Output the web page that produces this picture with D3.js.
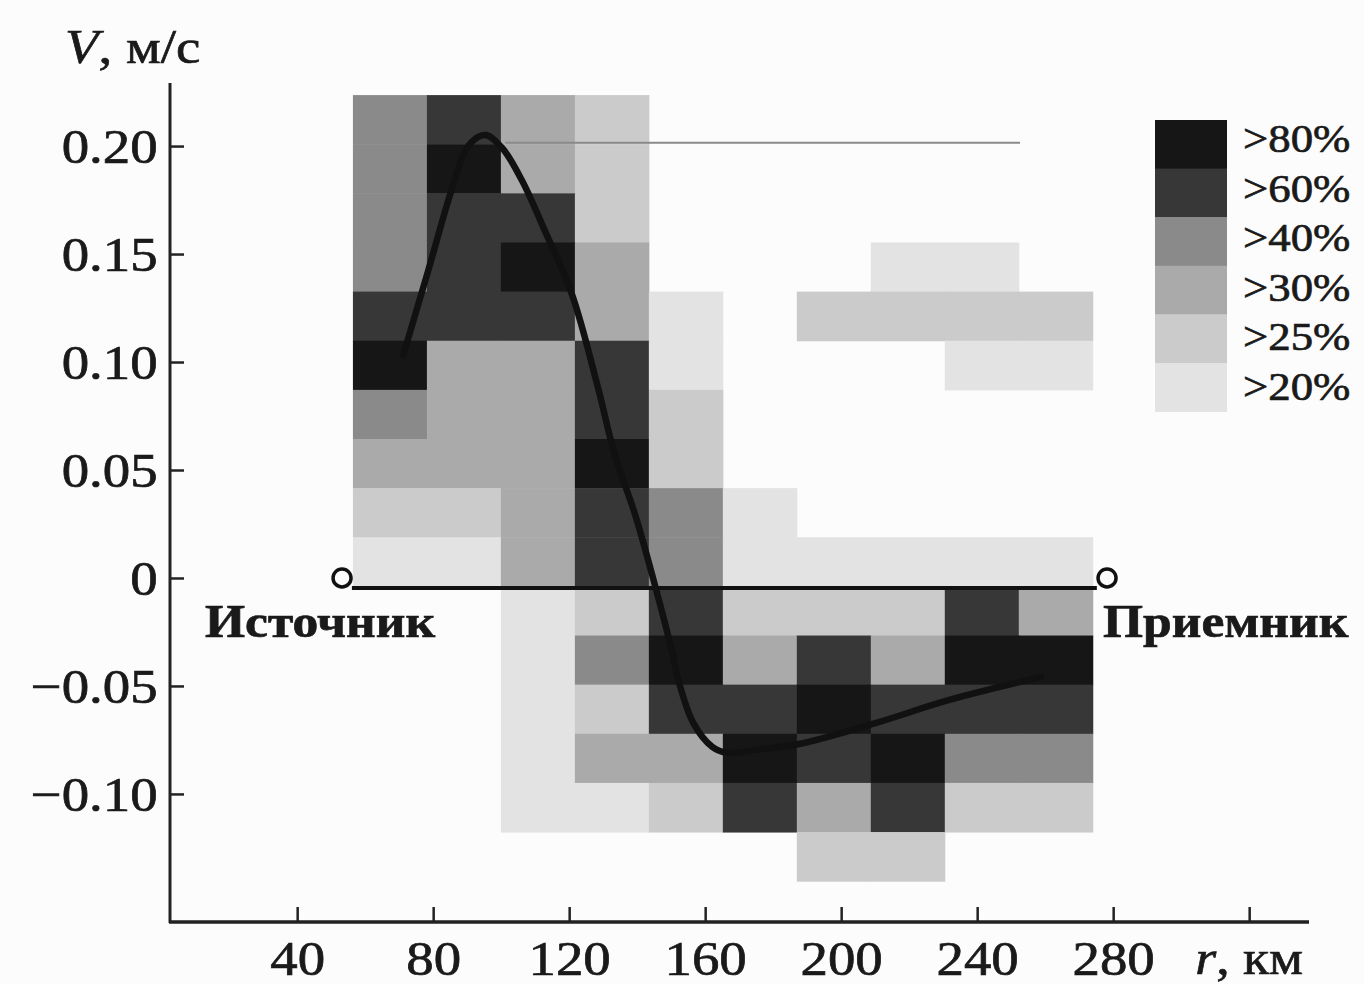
<!DOCTYPE html>
<html><head><meta charset="utf-8">
<script src="https://cdn.jsdelivr.net/npm/d3@7"></script>
<style>
html,body{margin:0;padding:0;background:#fcfcfc;}
svg{display:block;}
text{font-family:"Liberation Serif","Times New Roman",serif;fill:#1a1a1a;stroke:#1a1a1a;stroke-width:0.7px;}
</style></head>
<body>
<svg id="chart" width="1364" height="984"></svg>
<script>
// ---- data ----
const xTicks = [40, 80, 120, 160, 200, 240, 280, 320];
const xTickLabels = ["40", "80", "120", "160", "200", "240", "280", ""];
const yTicks = [-0.10, -0.05, 0, 0.05, 0.10, 0.15, 0.20];
const yTickLabels = ["\u22120.10", "\u22120.05", "0", "0.05", "0.10", "0.15", "0.20"];
const legendLabels = [">80%", ">60%", ">40%", ">30%", ">25%", ">20%"];
const levelColors = ["none", "#e3e3e3", "#cbcbcb", "#aaaaaa", "#8a8a8a", "#373737", "#161616"];

// grid: column left edges in km, row top edges in m/s
const colStart = 56.4, colWidth = 21.76;
const rowTop = 0.2236, rowHeight = 0.02275;
// probability level per cell (rows from top to bottom, columns left to right), 0 = none
const level = [
  [4,5,3,2,0,0,0,0,0,0],
  [4,6,3,2,0,0,0,0,0,0],
  [4,5,5,2,0,0,0,0,0,0],
  [4,5,6,3,0,0,0,1,1,0],
  [5,5,5,3,1,0,2,2,2,2],
  [6,3,3,5,1,0,0,0,1,1],
  [4,3,3,5,2,0,0,0,0,0],
  [3,3,3,6,2,0,0,0,0,0],
  [2,2,3,5,4,1,0,0,0,0],
  [1,1,3,5,4,1,1,1,1,1],
  [0,0,1,2,5,2,2,2,5,3],
  [0,0,1,4,6,3,5,3,6,6],
  [0,0,1,2,5,5,6,5,5,5],
  [0,0,1,3,3,6,5,6,4,4],
  [0,0,1,1,2,5,3,5,2,2],
  [0,0,0,0,0,0,2,2,0,0]
];
// mean velocity curve
const curveR = [71.2, 78.5, 85.6, 90.3, 95.3, 100.3, 106.2, 112.9, 120.9, 128.5, 133.2, 139.7, 145.2, 150.3, 152.1, 156.5, 162.1, 166.5, 175.0, 189.1, 210.3, 231.8, 258.8];
const curveV = [0.1032, 0.1421, 0.1806, 0.2000, 0.2051, 0.1991, 0.1838, 0.1606, 0.1310, 0.0880, 0.0583, 0.0278, -0.0032, -0.0343, -0.0472, -0.0671, -0.0782, -0.0810, -0.0796, -0.0764, -0.0671, -0.0565, -0.0458];
// reference line near 0.20
const refLineR = [101.2, 252.6], refLineV = 0.2015;
// source / receiver
const sourceR = 53.2, receiverR = 278.2;
const pathR = [56.1, 275.2], pathV = -0.0046;

// ---- scales ----
const svg = d3.select("#chart");
const x = d3.scaleLinear().domain([2.6, 337.6]).range([170, 1309]);
const y = d3.scaleLinear().domain([-0.1593, 0.2292]).range([922, 83]);
const SX = 1.12;

function label(g, px, py, s, anchor, size, weight) {
  return g.append("text")
    .attr("transform", `translate(${px},${py}) scale(${SX},1)`)
    .attr("text-anchor", anchor || "start")
    .style("font-size", (size || 50) + "px")
    .style("font-weight", weight || "normal")
    .text(s);
}

// ---- heatmap ----
const cells = [];
level.forEach((row, i) => row.forEach((lv, j) => { if (lv > 0) cells.push({i, j, lv}); }));
svg.append("g").selectAll("rect").data(cells).join("rect")
  .attr("x", d => x(colStart + d.j * colWidth))
  .attr("y", d => y(rowTop - d.i * rowHeight))
  .attr("width", d => x(colStart + (d.j + 1) * colWidth) - x(colStart + d.j * colWidth) + 0.5)
  .attr("height", d => y(rowTop - (d.i + 1) * rowHeight) - y(rowTop - d.i * rowHeight) + 0.5)
  .attr("fill", d => levelColors[d.lv]);

// reference thin line
svg.append("line")
  .attr("x1", x(refLineR[0])).attr("x2", x(refLineR[1]))
  .attr("y1", y(refLineV)).attr("y2", y(refLineV))
  .attr("stroke", "#8a8a8a").attr("stroke-width", 2);

// source-receiver path
svg.append("line")
  .attr("x1", x(pathR[0])).attr("x2", x(pathR[1]))
  .attr("y1", y(pathV)).attr("y2", y(pathV))
  .attr("stroke", "#111").attr("stroke-width", 4);
[sourceR, receiverR].forEach(r => {
  svg.append("circle").attr("cx", x(r)).attr("cy", y(0)).attr("r", 9)
    .attr("fill", "#fcfcfc").attr("stroke", "#111").attr("stroke-width", 3.5);
});

// curve
const pts = curveR.map((r, i) => [r, curveV[i]]);
svg.append("path").datum(pts)
  .attr("d", d3.line().x(d => x(d[0])).y(d => y(d[1])).curve(d3.curveCatmullRom.alpha(0.5)))
  .attr("fill", "none").attr("stroke", "#111").attr("stroke-width", 6.5)
  .attr("stroke-linecap", "round").attr("stroke-linejoin", "round");

// ---- axes ----
const yAxis = svg.append("g").attr("transform", "translate(170,0)")
  .call(d3.axisLeft(y).tickValues(yTicks).tickSize(-14).tickPadding(11)
    .tickFormat((d, i) => yTickLabels[i]));
const xAxis = svg.append("g").attr("transform", "translate(0,922)")
  .call(d3.axisBottom(x).tickValues(xTicks).tickSize(-15).tickPadding(18)
    .tickFormat((d, i) => xTickLabels[i]));
[yAxis, xAxis].forEach(g => {
  g.select(".domain").remove();
  g.selectAll(".tick line").attr("stroke", "#222").attr("stroke-width", 2.5);
  g.selectAll(".tick text").style("font-size", "49px").style("fill", "#1a1a1a")
    .attr("font-family", null).attr("transform", `scale(${SX},1)`);
});
yAxis.selectAll(".tick text").attr("dy", "0.34em");
svg.append("line").attr("x1", 170).attr("x2", 170).attr("y1", 83).attr("y2", 923)
  .attr("stroke", "#222").attr("stroke-width", 3);
svg.append("line").attr("x1", 169).attr("x2", 1309).attr("y1", 922).attr("y2", 922)
  .attr("stroke", "#222").attr("stroke-width", 3.5);

// axis titles
const yt = label(svg, 65, 63, "", "start", 49);
yt.append("tspan").style("font-style", "italic").text("V");
yt.append("tspan").text(", м/с");
const xt = label(svg, x(320), 974, "", "middle", 48);
xt.append("tspan").style("font-style", "italic").text("r");
xt.append("tspan").text(", км");

// source / receiver labels
label(svg, 205, 637, "Источник", "start", 46, "bold");
label(svg, 1103, 637, "Приемник", "start", 46, "bold");

// ---- legend ----
const legend = svg.append("g");
legendLabels.forEach((s, i) => {
  legend.append("rect").attr("x", 1155).attr("y", 120 + i * 48.6)
    .attr("width", 72).attr("height", 49).attr("fill", levelColors[6 - i]);
  label(legend, 1243, 152 + i * 49.5, s, "start", 40);
});
</script>
</body></html>
